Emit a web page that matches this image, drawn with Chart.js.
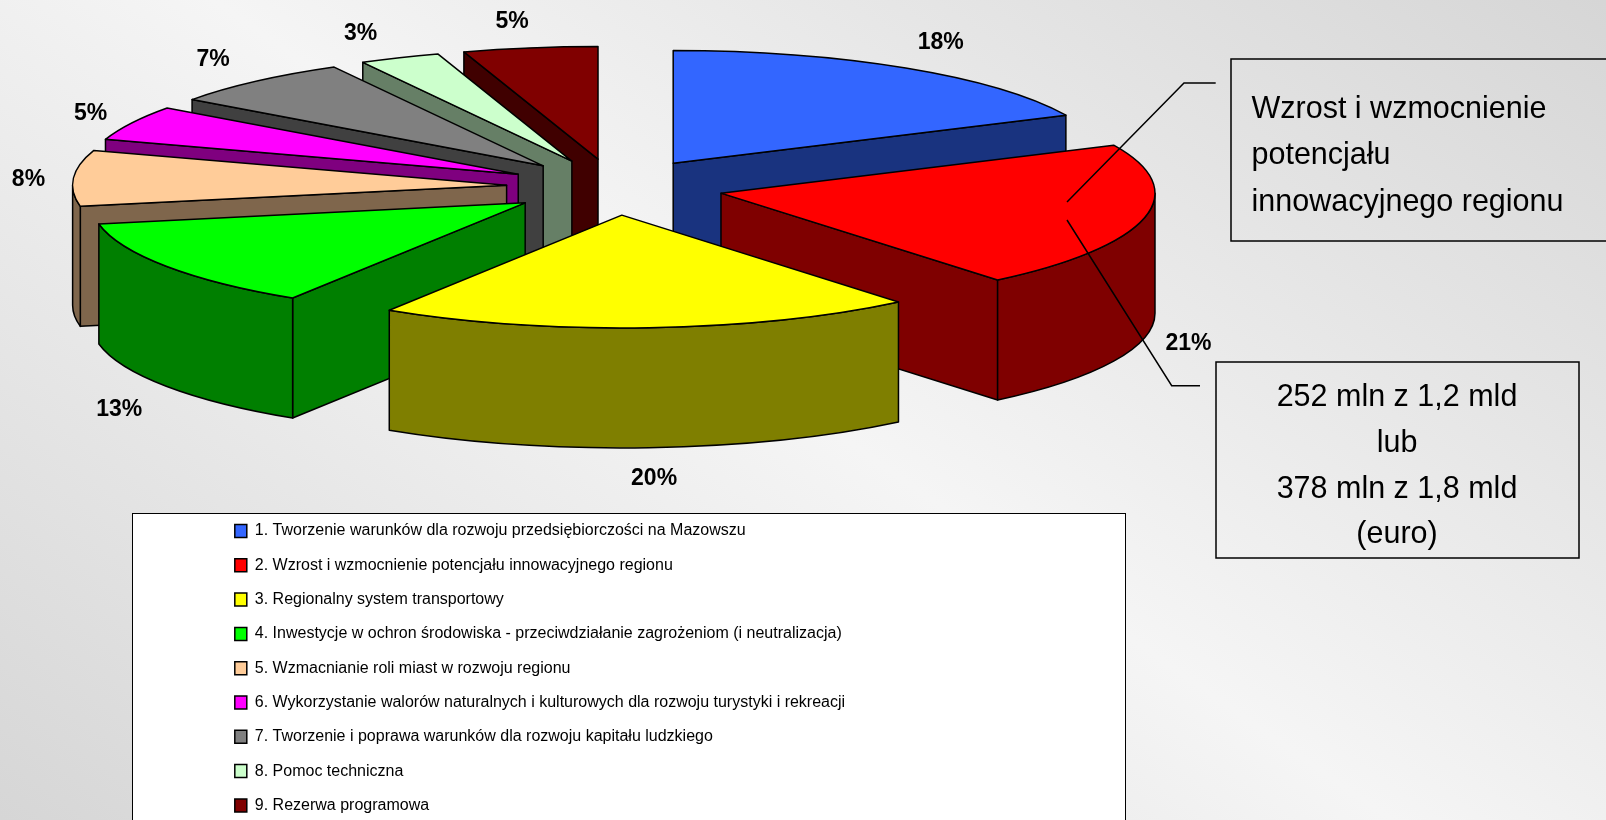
<!DOCTYPE html>
<html>
<head>
<meta charset="utf-8">
<title>Wykres</title>
<style>
html,body{margin:0;padding:0;width:1606px;height:820px;overflow:hidden;background:#f0f0f0}
canvas{display:block}
</style>
<script src="https://cdn.jsdelivr.net/npm/chart.js@4/dist/chart.umd.min.js"></script>
</head>
<body>
<canvas id="c" width="1606" height="820"></canvas>
<script>
const categories = [
  "1. Tworzenie warunków dla rozwoju przedsiębiorczości na Mazowszu",
  "2. Wzrost i wzmocnienie potencjału innowacyjnego regionu",
  "3. Regionalny system transportowy",
  "4. Inwestycje w ochron środowiska - przeciwdziałanie zagrożeniom (i neutralizacja)",
  "5. Wzmacnianie roli miast w rozwoju regionu",
  "6. Wykorzystanie walorów naturalnych i kulturowych dla rozwoju turystyki i rekreacji",
  "7. Tworzenie i poprawa warunków dla rozwoju kapitału ludzkiego",
  "8. Pomoc techniczna",
  "9. Rezerwa programowa"
];
const shares = [18, 21, 20, 13, 8, 5, 7, 3, 5];
const topColors = ["#3366FF","#FF0000","#FFFF00","#00FF00","#FFCC99","#FF00FF","#808080","#CCFFCC","#800000"];
const wallColors = ["#19337F","#7F0000","#7F7F00","#007F00","#7F664C","#7F007F","#404040","#667F66","#400000"];
const calloutTop = ["Wzrost i wzmocnienie","potencjału","innowacyjnego regionu"];
const calloutBottom = ["252 mln z 1,2 mld","lub","378 mln z 1,8 mld","(euro)"];

/* layout */
const FONT = '"Liberation Sans", Arial, sans-serif';
const RADIUS = 434, SQUASH = 0.2597, DEPTH = 120, EXPLODE = 108.6;
const SCREEN_CY = 187, CANVAS_CY = 410;
const labelNudge = [[35,-25],[44,126],[5,151],[-47,143],[-45,2],[-41,-9],[-43,-22],[-39,-24],[-18,-26]];
const toScreenY = y => SCREEN_CY + SQUASH * (y - CANVAS_CY);

function arcGeom(arc){
  return {sx:arc.x, sy:toScreenY(arc.y), a:arc.startAngle, b:arc.endAngle, R:arc.outerRadius, ry:arc.outerRadius*SQUASH};
}
function stroke(ctx){
  ctx.strokeStyle='#000';ctx.lineWidth=1.5;ctx.lineJoin='round';ctx.stroke();
}
function radialWall(ctx,g,ang,color){
  const px=g.sx+g.R*Math.cos(ang), py=g.sy+g.ry*Math.sin(ang);
  ctx.beginPath();
  ctx.moveTo(g.sx,g.sy);ctx.lineTo(px,py);ctx.lineTo(px,py+DEPTH);ctx.lineTo(g.sx,g.sy+DEPTH);ctx.closePath();
  ctx.fillStyle=color;ctx.fill();stroke(ctx);
}

const pie3d = {
  id:'pie3d',
  afterDatasetsUpdate(chart){
    chart.getDatasetMeta(0).data.forEach(arc=>{
      const mid=(arc.startAngle+arc.endAngle)/2;
      arc.x+=EXPLODE*Math.cos(mid);
      arc.y+=EXPLODE*Math.sin(mid);
    });
  },
  afterLayout(chart){
    const l=chart.legend, pad=l.options.labels.padding;
    l.left=234.8-pad; l.right=1125; l.top=523-pad; l.bottom=2000;
    l.adjustHitBoxes();
  },
  beforeDraw(chart){
    const ctx=chart.ctx;
    ctx.save();
    const gr=ctx.createLinearGradient(350,1061,1256,-241);
    gr.addColorStop(0,'#d6d6d6');gr.addColorStop(0.5,'#f5f5f5');gr.addColorStop(1,'#d6d6d6');
    ctx.fillStyle=gr;ctx.fillRect(0,0,1606,820);
    ctx.fillStyle='#fff';ctx.fillRect(132.5,513.5,993,320);
    ctx.strokeStyle='#000';ctx.lineWidth=1;ctx.strokeRect(132.5,513.5,993,320);
    ctx.restore();
  },
  beforeDatasetsDraw(chart){
    const ctx=chart.ctx, arcs=chart.getDatasetMeta(0).data;
    const order=arcs.map((a,i)=>i).sort((p,q)=>arcs[p].y-arcs[q].y);
    ctx.save();
    order.forEach(i=>{
      const g=arcGeom(arcs[i]), col=wallColors[i];
      if(-Math.cos(g.a)>1e-6) radialWall(ctx,g,g.a,col);
      if(Math.cos(g.b)>1e-6) radialWall(ctx,g,g.b,col);
      const lo=Math.max(g.a,0), hi=Math.min(g.b,Math.PI);
      if(lo<hi){
        ctx.beginPath();
        ctx.ellipse(g.sx,g.sy,g.R,g.ry,0,lo,hi);
        ctx.ellipse(g.sx,g.sy+DEPTH,g.R,g.ry,0,hi,lo,true);
        ctx.closePath();
        ctx.fillStyle=col;ctx.fill();stroke(ctx);
      }
    });
    ctx.restore();
    ctx.save();
    ctx.translate(0,SCREEN_CY);ctx.scale(1,SQUASH);ctx.translate(0,-CANVAS_CY);
  },
  afterDatasetsDraw(chart){
    const ctx=chart.ctx, arcs=chart.getDatasetMeta(0).data;
    ctx.restore();
    ctx.save();
    arcs.forEach(arc=>{
      const g=arcGeom(arc);
      ctx.beginPath();ctx.moveTo(g.sx,g.sy);
      ctx.ellipse(g.sx,g.sy,g.R,g.ry,0,g.a,g.b);ctx.closePath();stroke(ctx);
    });
    ctx.fillStyle='#000';ctx.textAlign='center';ctx.textBaseline='middle';
    ctx.font='bold 23px '+FONT;
    arcs.forEach((arc,i)=>{
      const g=arcGeom(arc), mid=(g.a+g.b)/2;
      ctx.fillText(shares[i]+'%',g.sx+g.R*Math.cos(mid)+labelNudge[i][0],g.sy+g.ry*Math.sin(mid)+labelNudge[i][1]);
    });
    ctx.restore();
  },
  afterDraw(chart){
    const ctx=chart.ctx;
    ctx.save();
    ctx.strokeStyle='#000';ctx.lineWidth=1.5;
    ctx.beginPath();
    ctx.moveTo(1215.7,83);ctx.lineTo(1184,83);ctx.lineTo(1067,202);
    ctx.moveTo(1067,220);ctx.lineTo(1171.7,385.7);ctx.lineTo(1200,385.7);
    ctx.stroke();
    ctx.strokeRect(1231,59,400,182);
    ctx.strokeRect(1216,362,363,196);
    ctx.fillStyle='#000';ctx.font='30.5px '+FONT;ctx.textBaseline='alphabetic';
    ctx.textAlign='left';
    calloutTop.forEach((t,i)=>ctx.fillText(t,1251.5,118+i*46.4));
    ctx.textAlign='center';
    calloutBottom.forEach((t,i)=>ctx.fillText(t,1397,406+i*45.8));
    ctx.restore();
  }
};

new Chart(document.getElementById('c'),{
  type:'pie',
  data:{labels:categories,datasets:[{data:shares,backgroundColor:topColors,borderWidth:0,clip:false}]},
  options:{
    responsive:false,
    animation:false,
    radius:RADIUS,
    layout:{padding:{right:376}},
    plugins:{
      tooltip:{enabled:false},
      legend:{
        display:true,position:'chartArea',align:'start',
        labels:{
          font:{family:FONT,size:16},color:'#000',
          boxWidth:12,boxHeight:13,padding:18.3,
          generateLabels(chart){
            return Chart.overrides.doughnut.plugins.legend.labels.generateLabels(chart).map(it=>Object.assign(it,{strokeStyle:'#000',lineWidth:1.5}));
          }
        }
      }
    }
  },
  plugins:[pie3d]
});
</script>
</body>
</html>
